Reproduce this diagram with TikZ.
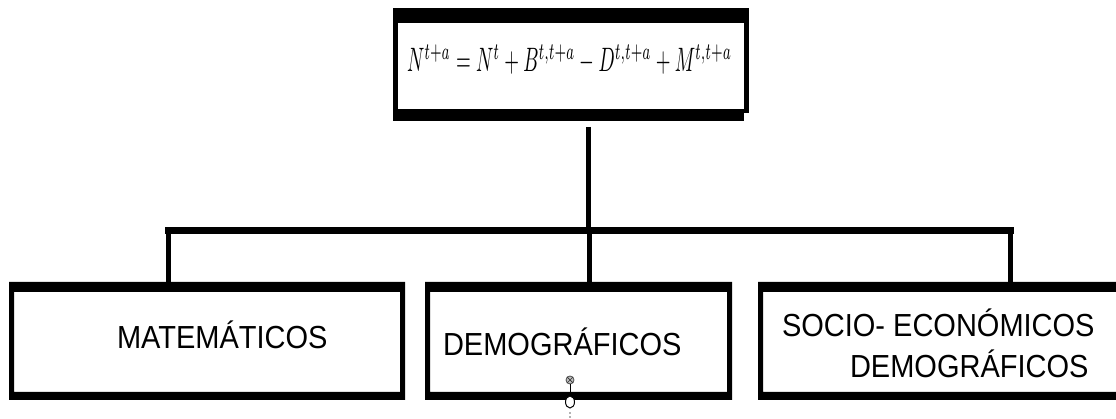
\documentclass[tikz,border=0pt]{standalone}
\usepackage{fontspec}
\setmainfont{Liberation Sans}
\usepackage{graphicx}
\usetikzlibrary{shapes.geometric}
\tikzset{
  boxarea/.style={inner sep=0pt, outer sep=0pt, draw=none},
  lbltext/.style={inner sep=0pt, outer sep=0pt, anchor=base west,
    font=\fontsize{29}{34}\selectfont},
  conn/.style={line width=5pt},
  bus/.style={line width=7pt, line cap=rect},
}
% thick frame: top bar, bottom bar and side widths around a named box
\newcommand{\thickframe}[4]{%
  \fill[black, even odd rule] (#1.south west) rectangle (#1.north east)
    ([shift={(#4,#3)}]#1.south west) rectangle ([shift={(-#4,-#2)}]#1.north east);}
\newcommand{\stretched}[1]{\scalebox{1}[1.1]{#1}}
\begin{document}
\begin{tikzpicture}[x=1pt,y=1pt]
\useasboundingbox (0,0) rectangle (1116,419);
\clip (0,0) rectangle (1116,419);
\fill[white] (0,0) rectangle (1116,419);

% equation box at the top
\node[boxarea, minimum width=356pt, minimum height=113pt] (top) at (571,354.5) {};
\fill (top.north west) rectangle ([xshift=-5pt,yshift=-15pt]top.north east); % top bar
\fill ([yshift=-15pt]top.north west) rectangle ([xshift=5pt,yshift=12pt]top.south west); % left side
\fill (top.south west) rectangle ([xshift=-5pt,yshift=12pt]top.south east); % bottom bar
\fill ([xshift=-5pt]top.north east) rectangle ([yshift=8pt]top.south east); % right side
\node[inner sep=0pt, outer sep=0pt, anchor=base west] (eq) at (407,347)
  {\resizebox{325pt}{27pt}{$N^{t+a}=N^{t}+B^{t,t+a}-D^{t,t+a}+M^{t,t+a}$}};

% the three categories
\node[boxarea, minimum width=396pt, minimum height=118pt] (mat) at (207,78) {};
\node[boxarea, minimum width=307pt, minimum height=118pt] (dem) at (578.5,78) {};
\node[boxarea, minimum width=372pt, minimum height=118pt] (soc) at (944,78) {};
\thickframe{mat}{10pt}{8pt}{5pt}
\thickframe{dem}{10pt}{8pt}{5pt}
\thickframe{soc}{10pt}{8pt}{5pt}

\node[lbltext] (matlbl) at (117,70) {\stretched{MATEMÁTICOS}};
\node[lbltext] (demlbl) at (443,63) {\stretched{DEMOGRÁFICOS}};
\node[lbltext] (soclblA) at (782,82) {\stretched{SOCIO- ECONÓMICOS}};
\node[lbltext] (soclblB) at (850,41) {\stretched{DEMOGRÁFICOS}};

% connectors
\coordinate (hub) at (588.5,188.5);
\coordinate (jl) at (168.5,188.5);
\coordinate (jm) at (589.5,188.5);
\coordinate (jr) at (1010.5,188.5);
\draw[conn] ([yshift=-6pt]top.south -| hub) -- ([yshift=-3pt]hub);
\draw[bus] (jl) -- (jr);
\draw[conn] (jl) -- (jl |- mat.north);
\draw[conn] (jm) -- (jm |- dem.north);
\draw[conn] (jr) -- (jr |- soc.north);

% anchor marks on the middle box
\node[circle, draw=black!70, fill=black!25, line width=0.8pt, inner sep=0pt,
  minimum size=8pt] (mk) at (570,39) {};
\draw[black!80, line width=0.7pt] (mk.north west) -- (mk.south east)
  (mk.north east) -- (mk.south west);
\node[ellipse, draw=black, fill=white, line width=1pt, inner sep=0pt,
  minimum width=9pt, minimum height=12pt] (hd) at (570,17) {};
\draw[line width=0.8pt] (mk.south) -- (hd.north);
\fill[black!60] (570,6) circle (0.9pt) (570,2) circle (0.9pt);
\end{tikzpicture}
\end{document}
